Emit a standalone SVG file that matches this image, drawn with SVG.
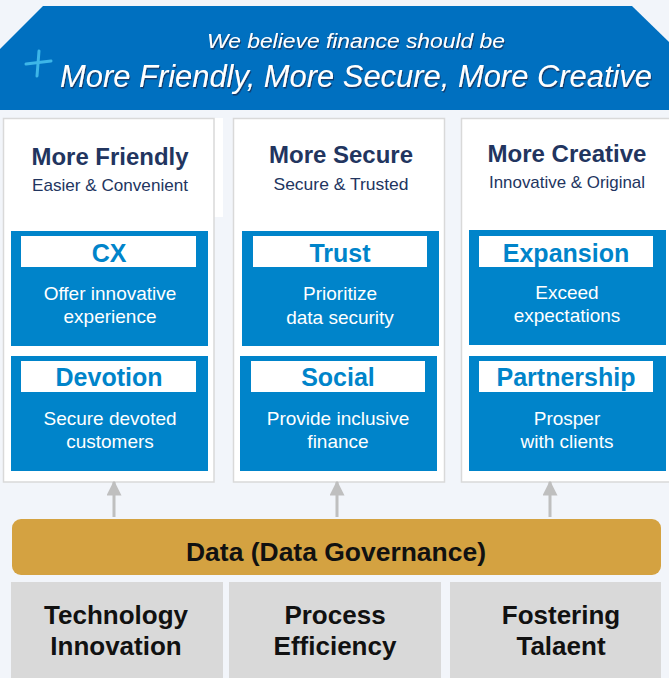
<svg xmlns="http://www.w3.org/2000/svg" width="669" height="678" viewBox="0 0 669 678">
<defs>
<style>
.card{fill:#ffffff;stroke:#d9d9d9;stroke-width:1.5}
.box{fill:#0084ca}
.lbl{fill:#ffffff}
.title{font-family:"Liberation Sans",Arial,sans-serif;font-weight:bold;font-size:23px;fill:#22355f;text-anchor:middle}
.sub{font-family:"Liberation Sans",Arial,sans-serif;font-size:17px;fill:#22355f;text-anchor:middle}
.lt{font-family:"Liberation Sans",Arial,sans-serif;font-weight:bold;font-size:25px;fill:#0084ca;text-anchor:middle}
.body{font-family:"Liberation Sans",Arial,sans-serif;font-size:19px;fill:#ffffff;text-anchor:middle}
.base{fill:#d9d9d9}
.bt{font-family:"Liberation Sans",Arial,sans-serif;font-weight:bold;font-size:26px;fill:#111111;text-anchor:middle}
.hand{font-family:"Liberation Sans",Arial,sans-serif;font-style:italic;fill:#ffffff;text-anchor:middle}
.arrow{stroke:#bfbfbf;stroke-width:3;fill:none}
</style>
<marker id="ah" viewBox="0 0 10 10" refX="9" refY="5" markerWidth="5" markerHeight="5" orient="auto" markerUnits="strokeWidth">
<path d="M0,0 L10,5 L0,10 Z" fill="#bfbfbf"/>
</marker>
<filter id="sh" x="-5%" y="-20%" width="110%" height="150%">
<feDropShadow dx="1" dy="1.5" stdDeviation="0.6" flood-color="#1a2a55" flood-opacity="0.8"/>
</filter>
</defs>
<rect x="0" y="0" width="669" height="678" fill="#f2f5fa"/>

<g id="banner">
<polygon points="43,6 632,6 669,42 669,110 0,110 0,49" fill="#0070c0"/>
<g stroke="#3db6e8" stroke-width="3" stroke-linecap="round">
<line x1="26" y1="64" x2="51" y2="61"/>
<line x1="39" y1="51" x2="37" y2="76"/>
</g>
<text class="hand" x="356" y="48" font-size="21" textLength="298" lengthAdjust="spacingAndGlyphs" filter="url(#sh)">We believe finance should be</text>
<text class="hand" x="356" y="87" font-size="31" textLength="592" lengthAdjust="spacingAndGlyphs" filter="url(#sh)">More Friendly, More Secure, More Creative</text>
</g>

<g id="col-friendly">
<rect x="214" y="118" width="9" height="99" fill="#ffffff"/>
<rect class="card" x="3.5" y="118.5" width="210.5" height="363.5"/>
<text class="title" x="110" y="165" textLength="157" lengthAdjust="spacingAndGlyphs">More Friendly</text>
<text class="sub" x="110" y="191" textLength="156" lengthAdjust="spacingAndGlyphs">Easier &amp; Convenient</text>
</g>
<g id="cx">
<rect class="box" x="11" y="231" width="197" height="115"/>
<rect class="lbl" x="21" y="236" width="175" height="31"/>
<text class="lt" x="109" y="262">CX</text>
<text class="body" x="110" y="300">Offer innovative</text>
<text class="body" x="110" y="323">experience</text>
</g>
<g id="devotion">
<rect class="box" x="11" y="356" width="197" height="115"/>
<rect class="lbl" x="21" y="361" width="175" height="31"/>
<text class="lt" x="109" y="386">Devotion</text>
<text class="body" x="110" y="425">Secure devoted</text>
<text class="body" x="110" y="448">customers</text>
</g>

<g id="col-secure">
<rect class="card" x="233.5" y="118.5" width="211" height="363.5"/>
<text class="title" x="341" y="163" textLength="144" lengthAdjust="spacingAndGlyphs">More Secure</text>
<text class="sub" x="341" y="190" textLength="135" lengthAdjust="spacingAndGlyphs">Secure &amp; Trusted</text>
</g>
<g id="trust">
<rect class="box" x="242" y="231" width="197" height="115"/>
<rect class="lbl" x="253" y="236" width="174" height="31"/>
<text class="lt" x="340" y="262">Trust</text>
<text class="body" x="340" y="300">Prioritize</text>
<text class="body" x="340" y="324">data security</text>
</g>
<g id="social">
<rect class="box" x="240" y="356" width="197" height="115"/>
<rect class="lbl" x="251" y="361" width="174" height="31"/>
<text class="lt" x="338" y="386">Social</text>
<text class="body" x="338" y="425">Provide inclusive</text>
<text class="body" x="338" y="448">finance</text>
</g>

<g id="col-creative">
<rect class="card" x="461.5" y="118.5" width="210" height="363.5"/>
<text class="title" x="567" y="162" textLength="159" lengthAdjust="spacingAndGlyphs">More Creative</text>
<text class="sub" x="567" y="188" textLength="156" lengthAdjust="spacingAndGlyphs">Innovative &amp; Original</text>
</g>
<g id="expansion">
<rect class="box" x="469" y="230" width="197" height="115"/>
<rect class="lbl" x="479" y="236" width="174" height="31"/>
<text class="lt" x="566" y="262" font-size="26">Expansion</text>
<text class="body" x="567" y="299">Exceed</text>
<text class="body" x="567" y="322">expectations</text>
</g>
<g id="partnership">
<rect class="box" x="469" y="356" width="197" height="115"/>
<rect class="lbl" x="479" y="361" width="174" height="31"/>
<text class="lt" x="566" y="386" font-size="26">Partnership</text>
<text class="body" x="567" y="425">Prosper</text>
<text class="body" x="567" y="448">with clients</text>
</g>

<g id="connectors">
<line class="arrow" x1="114" y1="517" x2="114" y2="482" marker-end="url(#ah)"/>
<line class="arrow" x1="337" y1="517" x2="337" y2="482" marker-end="url(#ah)"/>
<line class="arrow" x1="550" y1="517" x2="550" y2="482" marker-end="url(#ah)"/>
</g>

<g id="data">
<rect x="12" y="519" width="649" height="56" rx="9" fill="#d4a241"/>
<text class="bt" x="336" y="561" font-size="24" textLength="300" lengthAdjust="spacingAndGlyphs">Data (Data Governance)</text>
</g>

<g id="technology">
<rect class="base" x="11" y="582" width="212" height="96"/>
<text class="bt" x="116" y="624">Technology</text>
<text class="bt" x="116" y="655">Innovation</text>
</g>
<g id="process">
<rect class="base" x="229" y="582" width="212" height="96"/>
<text class="bt" x="335" y="624">Process</text>
<text class="bt" x="335" y="655">Efficiency</text>
</g>
<g id="talent">
<rect class="base" x="450" y="582" width="211" height="96"/>
<text class="bt" x="561" y="624">Fostering</text>
<text class="bt" x="561" y="655">Talaent</text>
</g>
</svg>
